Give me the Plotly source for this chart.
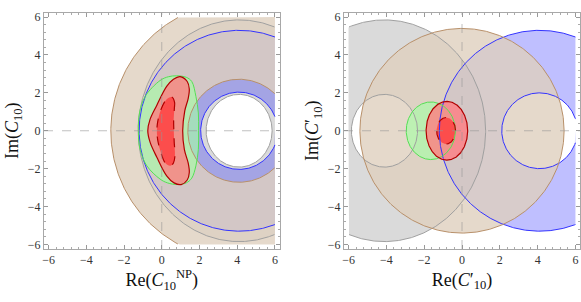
import numpy as np
import plotly.graph_objects as go

# ---------------- data ----------------
BOX = 6.0           # region-plot domain [-6, 6]^2
AX_RANGE = [-6.24, 6.24]
TICKS = [-6, -4, -2, 0, 2, 4, 6]

# Left panel: Re(C10^NP) vs Im(C10); rings centred on (4.1, 0)
L_center = 4.1
L_gray_outer = (5.35, 5.85)   # (rx, ry)
L_gray_inner = (1.75, 1.92)
L_blue_outer = (5.30, 5.30)
L_blue_inner = (2.04, 2.04)
L_tan_outer = (6.80, 6.80)
L_tan_inner = (2.72, 2.72)

# green allowed region (left panel), boundary points
L_green_x = [0.79, 1.30, 1.59, 1.81, 1.94, 1.95, 1.94, 1.81, 1.59, 1.30, 0.85,
             0.30, -0.09, -0.79, -1.15, -1.24, -1.18, -0.88, -0.09, 0.35]
L_green_y = [2.90, 2.82, 2.60, 1.81, 0.94, 0.00, -0.98, -1.85, -2.50, -2.75, -2.84,
             -2.75, -2.55, -1.85, -0.98, 0.00, 0.94, 1.81, 2.65, 2.85]
# red outer region (left panel)
L_red_x = [0.97, 1.35, 1.46, 1.40, 1.22, 1.11, 1.20, 1.40, 1.46, 1.35, 1.03,
           0.65, 0.26, -0.26, -0.62, -0.74, -0.62, -0.26, 0.26, 0.62]
L_red_y = [2.86, 2.60, 2.20, 1.70, 1.05, 0.00, -1.00, -1.70, -2.20, -2.60, -2.84,
           -2.75, -2.38, -1.40, -0.60, 0.00, 0.60, 1.35, 2.34, 2.72]
# red inner (dashed) region (left panel)
L_redin_x = [0.53, 0.68, 0.67, 0.63, 0.64, 0.66, 0.70, 0.62, 0.45,
             0.20, -0.09, -0.24, -0.24, -0.05, 0.25]
L_redin_y = [1.78, 1.50, 1.20, 0.50, 0.00, -0.60, -1.30, -1.70, -1.85,
             -1.72, -1.00, -0.30, 0.30, 1.10, 1.65]

# Right panel: Re(C'10) vs Im(C'10)
R_gray_center = -4.1
R_gray_outer = (5.35, 5.85)
R_gray_inner = (1.75, 1.92)
R_blue_center = 4.1
R_blue_outer = (5.30, 5.30)
R_blue_inner = (2.00, 2.00)
R_tan_center = 0.0
R_tan = (5.40, 5.40)
R_green = (-1.65, 1.30, 1.52)     # (cx, rx, ry)
R_red = (-0.80, 1.10, 1.55)
R_redin = (-0.84, 0.50, 0.70)

# ---------------- styles ----------------
GRAY_FILL = "rgba(205,205,205,0.75)"
BLUE_FILL = "rgba(20,20,255,0.27)"
TAN_FILL = "rgba(222,207,190,0.80)"
GREEN_FILL = "rgba(165,255,165,0.62)"
RED_FILL = "rgba(255,125,130,0.80)"
REDIN_FILL = "rgba(255,60,60,0.80)"
GRAY_LINE = "#a0a0a0"
BLUE_LINE = "#3333ff"
TAN_LINE = "#b8906a"
GREEN_LINE = "#55e055"
RED_LINE = "#b00000"

N = 721


def ell(cx, rx, ry, theta0=0.0, reverse=False):
    t = np.linspace(theta0, theta0 + 2 * np.pi, N)
    if reverse:
        t = t[::-1]
    return cx + rx * np.cos(t), ry * np.sin(t)


def clamp(x, y):
    return list(np.clip(x, -BOX, BOX)), list(np.clip(y, -BOX, BOX))


def cut(x, y):
    xs, ys = [], []
    for a, b in zip(x, y):
        if abs(a) > BOX + 1e-9 or abs(b) > BOX + 1e-9:
            xs.append(None); ys.append(None)
        else:
            xs.append(float(a)); ys.append(float(b))
    return xs, ys


fig = go.Figure()


def add_fill(x, y, color, xa, ya, shape="linear"):
    fig.add_trace(go.Scatter(x=x, y=y, mode="lines", fill="toself", fillcolor=color,
                             line=dict(width=0, shape=shape), hoverinfo="skip",
                             showlegend=False, xaxis=xa, yaxis=ya))


def add_line(x, y, color, xa, ya, dash="solid", width=1.0, shape="linear"):
    fig.add_trace(go.Scatter(x=x, y=y, mode="lines",
                             line=dict(color=color, width=width, dash=dash, shape=shape),
                             hoverinfo="skip", showlegend=False, xaxis=xa, yaxis=ya,
                             connectgaps=False))


def annulus(cx, outer, inner, theta0):
    ox, oy = ell(cx, outer[0], outer[1], theta0)
    ix, iy = ell(cx, inner[0], inner[1], theta0, reverse=True)
    return clamp(np.concatenate([ox, ix]), np.concatenate([oy, iy]))


def closed(xs, ys):
    return list(xs) + [xs[0]], list(ys) + [ys[0]]


# ---------- left panel ----------
xa, ya = "x", "y"
add_fill(*annulus(L_center, L_gray_outer, L_gray_inner, 0.0), GRAY_FILL, xa, ya)
add_fill(*annulus(L_center, L_blue_outer, L_blue_inner, 0.0), BLUE_FILL, xa, ya)
add_fill(*annulus(L_center, L_tan_outer, L_tan_inner, 0.0), TAN_FILL, xa, ya)
add_fill(*closed(L_green_x, L_green_y), GREEN_FILL, xa, ya, shape="spline")
add_fill(*closed(L_red_x, L_red_y), RED_FILL, xa, ya, shape="spline")
add_fill(*closed(L_redin_x, L_redin_y), REDIN_FILL, xa, ya, shape="spline")
for (rx, ry), col in [(L_gray_outer, GRAY_LINE), (L_gray_inner, GRAY_LINE),
                      (L_blue_outer, BLUE_LINE), (L_blue_inner, BLUE_LINE),
                      (L_tan_outer, TAN_LINE), (L_tan_inner, TAN_LINE)]:
    add_line(*cut(*ell(L_center, rx, ry)), col, xa, ya)
add_line(*closed(L_green_x, L_green_y), GREEN_LINE, xa, ya, shape="spline")
add_line(*closed(L_red_x, L_red_y), RED_LINE, xa, ya, shape="spline", width=1.2)
add_line(*closed(L_redin_x, L_redin_y), RED_LINE, xa, ya, dash="dash", shape="spline", width=1.2)

# ---------- right panel ----------
xa, ya = "x2", "y2"
add_fill(*annulus(R_gray_center, R_gray_outer, R_gray_inner, np.pi), GRAY_FILL, xa, ya)
add_fill(*annulus(R_blue_center, R_blue_outer, R_blue_inner, 0.0), BLUE_FILL, xa, ya)
add_fill(*clamp(*ell(R_tan_center, *R_tan)), TAN_FILL, xa, ya)
add_fill(*clamp(*ell(*R_green)), GREEN_FILL, xa, ya)
add_fill(*clamp(*ell(*R_red)), RED_FILL, xa, ya)
add_fill(*clamp(*ell(*R_redin)), REDIN_FILL, xa, ya)
for cx, (rx, ry), col in [(R_gray_center, R_gray_outer, GRAY_LINE),
                          (R_gray_center, R_gray_inner, GRAY_LINE),
                          (R_blue_center, R_blue_outer, BLUE_LINE),
                          (R_blue_center, R_blue_inner, BLUE_LINE),
                          (R_tan_center, R_tan, TAN_LINE)]:
    add_line(*cut(*ell(cx, rx, ry)), col, xa, ya)
add_line(*cut(*ell(*R_green)), GREEN_LINE, xa, ya)
add_line(*cut(*ell(*R_red)), RED_LINE, xa, ya, width=1.2)
add_line(*cut(*ell(*R_redin)), RED_LINE, xa, ya, dash="dash", width=1.2)

# ---------- axes ----------
W, H = 581, 302
tickfont = dict(family="Liberation Serif", size=12, color="#333333")
titlefont = dict(family="Liberation Serif", size=18, color="#111111")
common = dict(range=AX_RANGE, tickvals=TICKS, ticks="inside", ticklen=4, tickwidth=1,
              tickcolor="#999999", showline=True, linecolor="#a8a8a8", linewidth=1,
              mirror="ticks", showgrid=False, zeroline=False, tickfont=tickfont,
              minor=dict(ticks="inside", dtick=0.4, tick0=0, ticklen=2, tickcolor="#aaaaaa"),
              fixedrange=True, automargin=False)

ydom = [(302 - 249) / H, (302 - 12.5) / H]
fig.update_layout(
    template="none",
    font=dict(family="Liberation Serif", size=12, color="#333333"),
    width=W, height=H, margin=dict(l=0, r=0, t=0, b=0, autoexpand=False),
    paper_bgcolor="white", plot_bgcolor="white",
    xaxis=dict(domain=[44 / W, 279.5 / W], anchor="y",
               title=dict(text="Re(<i>C</i><sub>10</sub><sup>NP</sup>)", font=titlefont, standoff=6),
               **common),
    yaxis=dict(domain=ydom, anchor="x",
               title=dict(text="Im(<i>C</i><sub>10</sub>)", font=titlefont, standoff=4),
               **common),
    xaxis2=dict(domain=[344 / W, 580 / W], anchor="y2",
                title=dict(text="Re(<i>C</i>′<sub>10</sub>)", font=titlefont, standoff=6),
                **common),
    yaxis2=dict(domain=ydom, anchor="x2",
                title=dict(text="Im(<i>C</i>′<sub>10</sub>)", font=titlefont, standoff=4),
                **common),
)

# dashed zero lines
for xr, yr in [("x", "y"), ("x2", "y2")]:
    fig.add_shape(type="line", xref=xr, yref=yr + " domain", x0=0, x1=0, y0=0, y1=1,
                  line=dict(color="rgba(150,150,150,0.6)", width=1, dash="dash"), layer="above")
    fig.add_shape(type="line", xref=xr + " domain", yref=yr, x0=0, x1=1, y0=0, y1=0,
                  line=dict(color="rgba(150,150,150,0.6)", width=1, dash="dash"), layer="above")

fig.write_html("out.html", config={"displayModeBar": False},
               post_script="document.body.style.margin='0';document.body.style.padding='0';")
